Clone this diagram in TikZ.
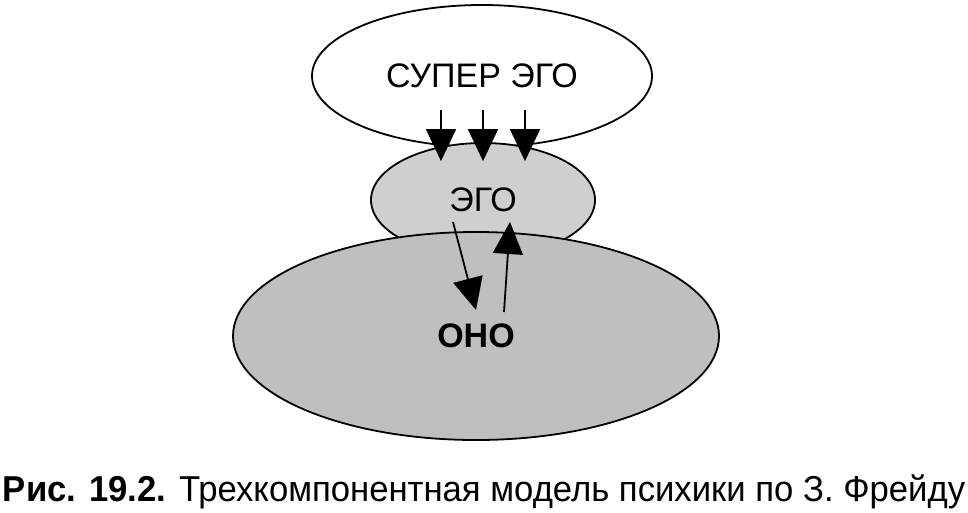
\documentclass[tikz,border=0pt]{standalone}
\usepackage{fontspec}
\setmainfont{Liberation Sans}
\usepackage{graphicx}
\usetikzlibrary{positioning,arrows.meta,shapes.geometric}

\begin{document}
\begin{tikzpicture}[
  x=1pt, y=-1pt,
  part/.style={ellipse, draw, line width=1.8pt, inner sep=0pt},
  push/.style={line width=1.8pt, -{Triangle[width=30pt,length=32pt]}},
  every node/.style={font=\fontsize{34}{40}\selectfont}
]
\useasboundingbox (0,0) rectangle (968,512);

% Three parts of the psyche
\node[part, fill=white,   minimum width=340pt, minimum height=142pt] (super) at (482,76)  {СУПЕР ЭГО};
\node[part, fill=gray!38, minimum width=224pt, minimum height=114pt] (ego)   at (483,200) {ЭГО};
\node[part, fill=gray!50, minimum width=486pt, minimum height=208pt,
      font=\fontsize{34}{40}\selectfont\bfseries] (oho) at (476,336) {ОНО};

% --- super ego -> ego ---
\draw[push] ([xshift=-41pt,yshift=38pt]super.south) -- ([xshift=-42pt,yshift=-19pt]ego.north);
\draw[push] ([xshift=1pt,yshift=38pt]super.south)   -- ([xshift=0pt,yshift=-19pt]ego.north);
\draw[push] ([xshift=43pt,yshift=38pt]super.south)  -- ([xshift=42pt,yshift=-19pt]ego.north);

% --- ego <-> oho ---
\draw[push] ([xshift=-30pt,yshift=-22pt]ego.center) -- ([xshift=0pt,yshift=26pt]oho.center);
\draw[push] ([xshift=28pt,yshift=24pt]oho.center)   -- ([xshift=27pt,yshift=-22pt]ego.center);

% Caption
\node[anchor=base] (caption) at (484,501)
  {\resizebox{962pt}{\height}{\fontsize{36}{40}\selectfont\textbf{Рис. 19.2.} Трехкомпонентная модель психики по З. Фрейду}};

\end{tikzpicture}
\end{document}
